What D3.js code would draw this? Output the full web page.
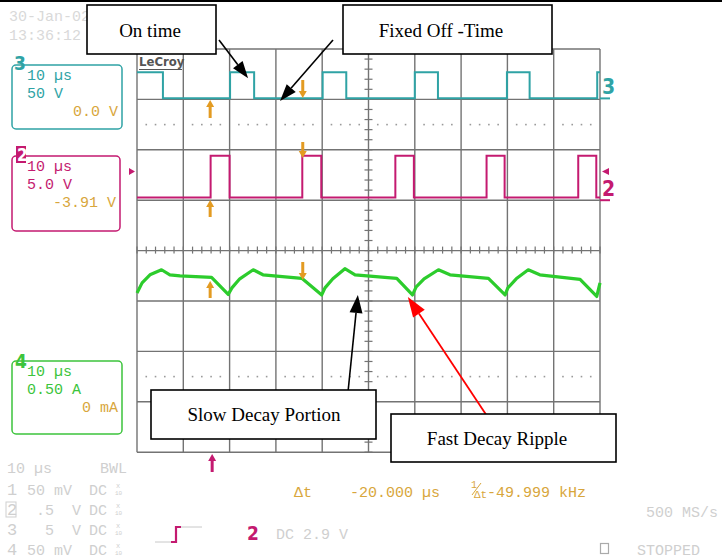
<!DOCTYPE html>
<html>
<head>
<meta charset="utf-8">
<script src="https://cdnjs.cloudflare.com/ajax/libs/d3/7.8.5/d3.min.js"></script>
<style>
  body { margin: 0; background: #fff; }
  svg { display: block; }
</style>
</head>
<body>
<div id="vis"></div>
<script>
// Leitura do osciloscópio: 10 us/div, 10 divisões na horizontal
const timeDomain = [0, 100];
const cursorTimes = [15.8, 35.8];

// Canal 3 (tensão da bobina, V) - bordas dos pulsos "on time"
const ch3Rise = [20.1, 40.1, 60.0, 79.9, 99.4];
const ch3Fall = [5.6, 25.3, 45.2, 65.0, 84.8];
const ch3Levels = [1.2, 27];      // [baixo, alto]

// Canal 2 (sinal de decaimento rápido, V)
const ch2Rise = [15.9, 35.7, 55.8, 75.5, 95.3];
const ch2Fall = [20.0, 39.8, 59.8, 79.4, 99.2];
const ch2Levels = [0.27, 4.4];

const ch4Points = [
  [0.0, 0.08], [1.1, 0.18], [2.8, 0.26], [5.3, 0.31], [7.1, 0.26], [9.3, 0.25], [16.1, 0.235], [19.7, 0.065],
  [20.5, 0.13], [22.2, 0.22], [25.1, 0.31], [27.2, 0.26], [35.6, 0.225], [39.9, 0.06],
  [40.6, 0.13], [42.3, 0.22], [44.9, 0.32], [47.1, 0.26], [56.1, 0.225], [59.5, 0.06],
  [60.3, 0.14], [62.0, 0.22], [65.1, 0.31], [67.6, 0.26], [75.9, 0.225], [79.5, 0.06],
  [80.1, 0.13], [81.9, 0.22], [84.5, 0.31], [87.0, 0.26], [95.7, 0.215], [99.3, 0.045], [100, 0.18]
];

// Textos do painel
const chanInfo3 = ["10 µs", "50 V", "0.0 V"];
const chanInfo2 = ["10 µs", "5.0 V", "-3.91 V"];
const chanInfo4 = ["10 µs", "0.50 A", "0 mA"];
const bottomRows = [
  ["1", "50 mV", "DC"],
  ["2", " .5  V", "DC"],
  ["3", "  5  V", "DC"],
  ["4", "50 mV", "DC"]
];
const callouts = ["On time", "Fixed Off -Time", "Slow Decay Portion", "Fast Decay Ripple"];

// Cores
const teal = "#2fa3a5", magenta = "#c41a70", green = "#2ccc2c", orange = "#e39b22",
      orangeTxt = "#d8a63c", gray = "#cfcfcf", gridCol = "#737373";

const W = 722, H = 559;
const gLeft = 137, gRight = 600, gTop = 49, gBottom = 452.2;
const divH = (gBottom - gTop) / 8;

const svg = d3.select("#vis").append("svg").attr("width", W).attr("height", H);

const x = d3.scaleLinear().domain(timeDomain).range([gLeft, gRight]);
// cada canal tem sua escala vertical (valor por divisão)
const y3 = d3.scaleLinear().domain([0, 50]).range([gTop + divH, gTop]);
const y2 = d3.scaleLinear().domain([0, 5]).range([gTop + 3 * divH, gTop + 2 * divH]);
const y4 = d3.scaleLinear().domain([0, 0.5]).range([gTop + 5 * divH, gTop + 4 * divH]);

// linha preta no topo
svg.append("line").attr("x1", 0).attr("x2", W).attr("y1", 1).attr("y2", 1)
  .attr("stroke", "#000").attr("stroke-width", 2);

// ---- Grade ----
const grid = svg.append("g").attr("stroke", gridCol).attr("stroke-width", 1.4);
d3.range(0, 101, 10).forEach(t => {
  grid.append("line").attr("x1", x(t)).attr("x2", x(t)).attr("y1", gTop).attr("y2", gBottom);
});
d3.range(0, 9).forEach(i => {
  const yy = gTop + i * divH;
  grid.append("line").attr("x1", gLeft).attr("x2", gRight).attr("y1", yy).attr("y2", yy);
});
// marcas menores no eixo central
const cx = x(50), cy = gTop + 4 * divH;
d3.range(0, 41).forEach(k => {
  const yy = gTop + k * divH / 5;
  grid.append("line").attr("x1", cx - 4).attr("x2", cx + 4).attr("y1", yy).attr("y2", yy).attr("stroke-width", 1.2);
});
d3.range(0, 101, 2).forEach(t => {
  grid.append("line").attr("x1", x(t)).attr("x2", x(t)).attr("y1", cy - 4).attr("y2", cy + 3).attr("stroke-width", 1.2);
});
// linhas pontilhadas
[gTop + 1.5 * divH, gTop + 6.5 * divH].forEach(yy => {
  d3.range(0, 100, 2).filter(t => t % 10 !== 0).forEach(t => {
    svg.append("rect").attr("x", x(t) - 0.8).attr("y", yy - 0.8).attr("width", 1.6).attr("height", 1.6)
      .attr("fill", "#9a9a9a");
  });
});

// ---- Traços ----
function stepPoints(rises, falls, levels, startHigh) {
  const ev = rises.map(t => [t, 1]).concat(falls.map(t => [t, 0])).sort((a, b) => a[0] - b[0]);
  let s = startHigh ? 1 : 0;
  const pts = [[timeDomain[0], levels[s]]];
  ev.forEach(([t, n]) => { pts.push([t, levels[s]]); s = n; pts.push([t, levels[s]]); });
  pts.push([timeDomain[1], levels[s]]);
  return pts;
}

const line3 = d3.line().x(d => x(d[0])).y(d => y3(d[1]));
const line2 = d3.line().x(d => x(d[0])).y(d => y2(d[1]));
const line4 = d3.line().x(d => x(d[0])).y(d => y4(d[1]));

svg.append("path").attr("d", line3(stepPoints(ch3Rise, ch3Fall, ch3Levels, true)))
  .attr("fill", "none").attr("stroke", teal).attr("stroke-width", 2);
svg.append("path").attr("d", line2(stepPoints(ch2Rise, ch2Fall, ch2Levels, false)))
  .attr("fill", "none").attr("stroke", magenta).attr("stroke-width", 2);
svg.append("path").attr("d", line4(ch4Points))
  .attr("fill", "none").attr("stroke", green).attr("stroke-width", 3.2).attr("stroke-linejoin", "round");

// ---- Cursores (setas laranja) ----
function vArrow(xx, tail, tip, col, w) {
  const dir = tip > tail ? 1 : -1;
  svg.append("line").attr("x1", xx).attr("x2", xx).attr("y1", tail).attr("y2", tip - dir * 5)
    .attr("stroke", col).attr("stroke-width", w);
  svg.append("path").attr("d", `M${xx - 4},${tip - dir * 7}L${xx + 4},${tip - dir * 7}L${xx},${tip}Z`).attr("fill", col);
}
const cA = x(cursorTimes[0]), cB = x(cursorTimes[1]);
vArrow(cA, 118, 100, orange, 3); vArrow(cB, 80, 98, orange, 3);
vArrow(cA, 217, 200, orange, 3); vArrow(cB, 142, 158, orange, 3);
vArrow(cA, 298, 281, orange, 3); vArrow(cB, 262, 280, orange, 3);
vArrow(cA + 2, 472, 454, magenta, 3);

// ---- marcadores de canal ----
const mono = "'Liberation Mono', 'DejaVu Sans Mono', monospace";
const narrow = "'Liberation Sans Narrow', 'DejaVu Sans Condensed', sans-serif";

svg.append("text").attr("x", 602).attr("y", 94).text("3").attr("fill", teal)
  .attr("font-family", narrow).attr("font-weight", "bold").attr("font-size", 21);
svg.append("line").attr("x1", 600).attr("x2", 610).attr("y1", y3(0) - 1).attr("y2", y3(0) - 1).attr("stroke", teal).attr("stroke-width", 2);
svg.append("text").attr("x", 602).attr("y", 196).text("2").attr("fill", magenta)
  .attr("font-family", narrow).attr("font-weight", "bold").attr("font-size", 21);
svg.append("path").attr("d", "M602,171.5L609,168L609,175Z").attr("fill", magenta);
svg.append("line").attr("x1", 600).attr("x2", 610).attr("y1", y2(0)).attr("y2", y2(0)).attr("stroke", magenta).attr("stroke-width", 2);
svg.append("path").attr("d", "M129,168L135,171.5L129,175Z").attr("fill", magenta);

// logo
svg.append("text").attr("x", 139).attr("y", 66).text("LeCroy").attr("fill", "#555")
  .attr("font-family", narrow).attr("font-weight", "bold").attr("font-size", 13);
svg.append("line").attr("x1", 139).attr("x2", 182).attr("y1", 69.5).attr("y2", 69.5).attr("stroke", "#555").attr("stroke-width", 1.2);

// ---- Caixas dos canais ----
function chanBox(top, bottom, right, col, info) {
  svg.append("rect").attr("x", 12).attr("y", top).attr("width", right - 12).attr("height", bottom - top)
    .attr("rx", 4).attr("fill", "none").attr("stroke", col).attr("stroke-width", 1.5);
  const t = svg.append("g").attr("font-family", mono).attr("font-size", 15);
  t.append("text").attr("x", 27).attr("y", top + 15).text(info[0]).attr("fill", col);
  t.append("text").attr("x", 27).attr("y", top + 33).text(info[1]).attr("fill", col);
  t.append("text").attr("x", right - 4).attr("y", top + 51).attr("text-anchor", "end").text(info[2]).attr("fill", orangeTxt);
}
chanBox(65, 129, 122, teal, chanInfo3);
chanBox(156, 231, 120, magenta, chanInfo2);
chanBox(361, 434, 122, "#3cc43c", chanInfo4);

svg.append("text").attr("x", 14).attr("y", 70).text("3").attr("fill", teal)
  .attr("font-family", narrow).attr("font-weight", "bold").attr("font-size", 19);
svg.append("rect").attr("x", 16).attr("y", 146).attr("width", 10).attr("height", 17).attr("fill", magenta);
svg.append("text").attr("x", 17).attr("y", 161).text("2").attr("fill", "#fff")
  .attr("font-family", narrow).attr("font-weight", "bold").attr("font-size", 17);
svg.append("text").attr("x", 15).attr("y", 368).text("4").attr("fill", "#3cc43c")
  .attr("font-family", narrow).attr("font-weight", "bold").attr("font-size", 19);

// data / hora
const topTxt = svg.append("g").attr("font-family", mono).attr("font-size", 15).attr("fill", "#d9d9d9");
topTxt.append("text").attr("x", 9).attr("y", 21).text("30-Jan-02");
topTxt.append("text").attr("x", 9).attr("y", 40).text("13:36:12");

// ---- Rodapé ----
const bot = svg.append("g").attr("font-family", mono).attr("font-size", 15).attr("fill", gray);
bot.append("text").attr("x", 7).attr("y", 473).text("10 µs");
bot.append("text").attr("x", 127).attr("y", 473).attr("text-anchor", "end").text("BWL");
bottomRows.forEach((r, i) => {
  const yy = 495 + i * 20;
  bot.append("text").attr("x", 7).attr("y", yy).text(r[0]).attr("font-size", 17);
  bot.append("text").attr("x", 27).attr("y", yy).text(r[1]).style("white-space", "pre");
  bot.append("text").attr("x", 89).attr("y", yy).text(r[2]);
  bot.append("text").attr("x", 116).attr("y", yy - 7).text("x").attr("font-size", 7);
  bot.append("text").attr("x", 115).attr("y", yy).text("10").attr("font-size", 6);
});
bot.append("rect").attr("x", 6).attr("y", 502).attr("width", 10).attr("height", 15)
  .attr("fill", "none").attr("stroke", gray).attr("stroke-width", 1);
bot.append("text").attr("x", 646).attr("y", 517).text("500 MS/s");
bot.append("text").attr("x", 276).attr("y", 539).text("DC 2.9 V");
bot.append("text").attr("x", 637).attr("y", 555).text("STOPPED");
bot.append("rect").attr("x", 600.5).attr("y", 543.5).attr("width", 8).attr("height", 10)
  .attr("fill", "none").attr("stroke", "#aaa").attr("stroke-width", 1.2);

svg.append("text").attr("x", 247).attr("y", 540).text("2").attr("fill", magenta)
  .attr("font-family", narrow).attr("font-weight", "bold").attr("font-size", 19);
// símbolo de trigger
svg.append("line").attr("x1", 155).attr("x2", 172).attr("y1", 542).attr("y2", 542).attr("stroke", "#c8c8c8");
svg.append("line").attr("x1", 180).attr("x2", 202).attr("y1", 527).attr("y2", 527).attr("stroke", "#c8c8c8");
svg.append("path").attr("d", "M171,542L176,542L176,527L181,527").attr("fill", "none")
  .attr("stroke", magenta).attr("stroke-width", 2.2);

// medida dos cursores
const meas = svg.append("g").attr("font-family", mono).attr("font-size", 15).attr("fill", orangeTxt);
meas.append("text").attr("x", 294).attr("y", 497).text("Δt");
meas.append("text").attr("x", 350).attr("y", 497).text("-20.000 µs");
const frac = meas.append("text").attr("x", 471).attr("y", 488);
frac.append("tspan").text("1").attr("font-size", 10);
frac.append("tspan").attr("x", 474).attr("dy", 10).text("Δt").attr("font-size", 11);
frac.append("tspan").attr("x", 487).attr("dy", -1).text("-49.999 kHz");
meas.append("line").attr("x1", 472).attr("x2", 481).attr("y1", 495).attr("y2", 483).attr("stroke", orangeTxt).attr("stroke-width", 1);

// ---- Anotações ----
function arrow(x1, y1, x2, y2, col, w, hl, hw) {
  const a = Math.atan2(y2 - y1, x2 - x1);
  const bx = x2 - hl * Math.cos(a), by = y2 - hl * Math.sin(a);
  svg.append("line").attr("x1", x1).attr("y1", y1).attr("x2", bx).attr("y2", by)
    .attr("stroke", col).attr("stroke-width", w);
  const px = -Math.sin(a) * hw / 2, py = Math.cos(a) * hw / 2;
  svg.append("path").attr("d", `M${x2},${y2}L${bx + px},${by + py}L${bx - px},${by - py}Z`).attr("fill", col);
}
arrow(219, 40, x(24.0), y3(21), "#000", 1.6, 17, 12);
arrow(333, 40, x(30.9), y3(-1.5), "#000", 1.6, 17, 12);
arrow(348, 392, x(47.7), y4(0.06), "#000", 1.6, 18, 13);
arrow(487, 416, x(58.5), y4(0.04), "#ff0000", 1.8, 20, 14);

function callBox(x0, y0, x1, y1, label, tx, ty) {
  svg.append("rect").attr("x", x0).attr("y", y0).attr("width", x1 - x0).attr("height", y1 - y0)
    .attr("fill", "#fff").attr("stroke", "#000").attr("stroke-width", 1.6);
  svg.append("text").attr("x", tx).attr("y", ty).attr("text-anchor", "middle").text(label)
    .attr("font-family", "'Liberation Serif', 'Times New Roman', serif").attr("font-size", 19).attr("fill", "#000");
}
callBox(87, 5, 216, 54, callouts[0], 150, 37);
callBox(343, 5, 552, 54, callouts[1], 441, 37);
callBox(151, 390, 376, 439, callouts[2], 264, 421);
callBox(391, 414, 616, 462, callouts[3], 497, 445);
</script>
</body>
</html>
